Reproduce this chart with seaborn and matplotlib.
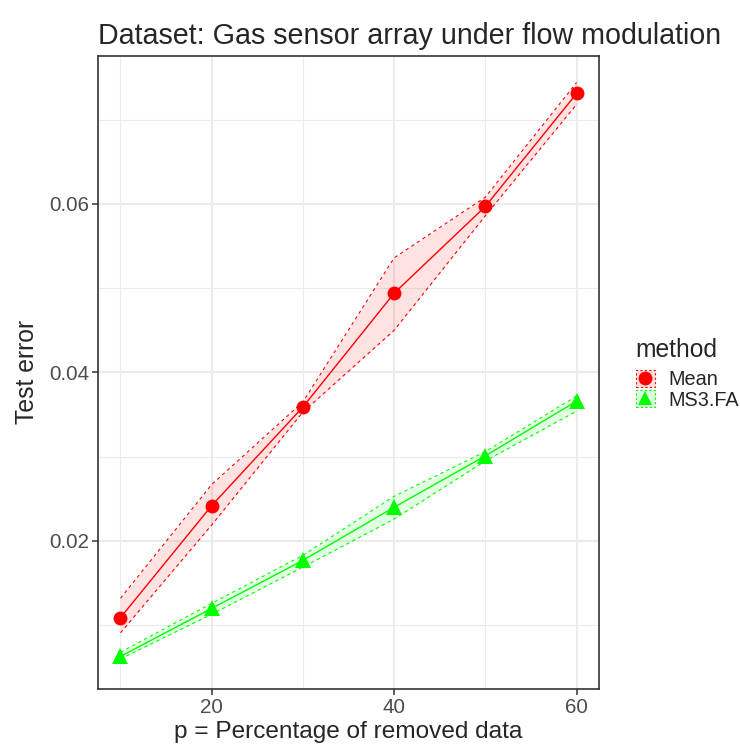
import numpy as np
import pandas as pd
import matplotlib
matplotlib.use("Agg")
import matplotlib.pyplot as plt
import seaborn as sns
from matplotlib.colors import to_rgba
from matplotlib.patches import Patch
from matplotlib.lines import Line2D

# values
p = [10, 20, 30, 40, 50, 60]
mean_err = [0.0109, 0.0242, 0.0359, 0.0494, 0.0597, 0.0731]
mean_lo = [0.0091, 0.0219, 0.0353, 0.0450, 0.0586, 0.0718]
mean_hi = [0.0132, 0.0267, 0.0365, 0.0536, 0.0608, 0.0744]
ms3_err = [0.0063, 0.0120, 0.0177, 0.0240, 0.0301, 0.0366]
ms3_lo = [0.0060, 0.0113, 0.0169, 0.0226, 0.0295, 0.0354]
ms3_hi = [0.0068, 0.0126, 0.0183, 0.0253, 0.0306, 0.0372]
methods = ["Mean", "MS3.FA"]

df = pd.concat([
    pd.DataFrame({"p": p, "err": mean_err, "lo": mean_lo, "hi": mean_hi, "method": "Mean"}),
    pd.DataFrame({"p": p, "err": ms3_err, "lo": ms3_lo, "hi": ms3_hi, "method": "MS3.FA"}),
])

colors = {"Mean": "#FF0000", "MS3.FA": "#00FF00"}
markers = {"Mean": "o", "MS3.FA": "^"}

sns.set_style("white")
plt.rcParams["font.family"] = ["Liberation Sans", "DejaVu Sans"]

fig = plt.figure(figsize=(7.4, 7.47), dpi=100)
ax = fig.add_axes([0.132, 0.0776, 0.678, 0.848])

for m in methods:
    d = df[df.method == m]
    ax.fill_between(d.p, d.lo, d.hi, color=colors[m], alpha=0.11, linewidth=0, zorder=2)
    sns.lineplot(data=d, x="p", y="lo", color=colors[m], linestyle=(0, (3, 3)),
                 linewidth=0.8, ax=ax, zorder=3)
    sns.lineplot(data=d, x="p", y="hi", color=colors[m], linestyle=(0, (3, 3)),
                 linewidth=0.8, ax=ax, zorder=3)
    sns.lineplot(data=d, x="p", y="err", color=colors[m], linewidth=1.0,
                 marker=markers[m], markersize=10 if m == "Mean" else 11,
                 markeredgewidth=0, ax=ax, zorder=4)

ax.set_xlim(7.5, 62.5)
ax.set_ylim(0.00243, 0.0776)
ax.set_xticks([20, 40, 60])
ax.set_xticks([10, 30, 50], minor=True)
ax.set_yticks([0.02, 0.04, 0.06])
ax.set_yticks([0.01, 0.03, 0.05, 0.07], minor=True)
ax.set_yticklabels(["0.02", "0.04", "0.06"])
ax.grid(which="major", color="#EBEBEB", linewidth=1.5, zorder=0)
ax.grid(which="minor", color="#EBEBEB", linewidth=0.8, zorder=0)
ax.set_axisbelow(True)
for s in ax.spines.values():
    s.set_color("#333333")
    s.set_linewidth(1.2)
ax.tick_params(which="major", length=4.3, width=1.1, color="#333333",
               labelsize=14.8, labelcolor="#4D4D4D", pad=2, left=True, bottom=True)
ax.tick_params(which="minor", length=0)

ax.set_xlabel("p = Percentage of removed data", fontsize=17.6, labelpad=3)
ax.set_ylabel("Test error", fontsize=17.8, labelpad=7)
ax.set_title("Dataset: Gas sensor array under flow modulation", fontsize=20.6,
             loc="left", pad=8)

# legend keys: ribbon box with dashed outline plus the marker
handles = []
for m in methods:
    box = Patch(facecolor=to_rgba(colors[m], 0.13), edgecolor=colors[m],
                linestyle=(0, (2, 2)), linewidth=0.8)
    pt = Line2D([], [], color=colors[m], marker=markers[m], linestyle="none", markersize=10,
                markeredgewidth=0)
    handles.append((box, pt))
leg = fig.legend(handles, methods, title="method", loc="upper left",
                 bbox_to_anchor=(0.859, 0.548), frameon=False, fontsize=14.3,
                 title_fontsize=17.7, handlelength=0.95, handleheight=0.95,
                 handletextpad=0.7, labelspacing=0.05, borderpad=0, borderaxespad=0)
leg._legend_box.align = "left"
leg._legend_box.sep = 6

fig.savefig("out.png", dpi=100)
